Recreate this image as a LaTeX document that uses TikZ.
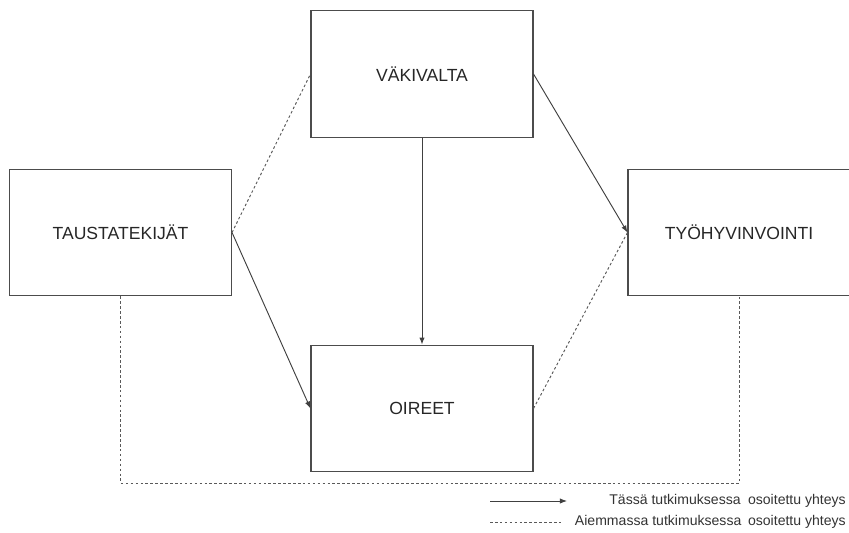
\documentclass[tikz,border=0pt]{standalone}
\usepackage{fontspec}
\setmainfont{Liberation Sans}
\usetikzlibrary{arrows.meta}

\tikzset{
    laatikko/.style={draw=black!70, line width=0.9pt, minimum width=6.66cm, minimum height=3.8cm,
        font=\fontsize{15}{18}\selectfont, text=black!85},
    yhteys/.style={draw=black!75, line width=0.8pt},
    aiempi/.style={draw=black!65, line width=0.8pt, dash pattern=on 2.2pt off 2pt},
    selite/.style={font=\fontsize{12}{14}\selectfont, text=black!80, inner sep=0pt}
}

\begin{document}
\begin{tikzpicture}[x=0.03cm, y=-0.03cm, >={Latex[length=6pt,width=4.5pt]}]
    \useasboundingbox (0,0) rectangle (849,532);
    % Laatikot
    \node[laatikko] (vak) at (422,74) {VÄKIVALTA};
    \node[laatikko] (taus) at (120.5,232.5) {TAUSTATEKIJÄT};
    \node[laatikko] (tyo) at (739,232.5) {TYÖHYVINVOINTI};
    \node[laatikko] (oir) at (422,408.5) {OIREET};
    % Yhteydet
    \draw[yhteys, ->] (vak.south) -- (oir.north);
    \draw[yhteys, ->] (taus.east) -- (oir.west);
    \draw[yhteys, ->] (vak.east) -- (tyo.west);
    \draw[aiempi] (taus.east) -- (vak.west);
    \draw[aiempi] (oir.east) -- (tyo.west);
    \draw[aiempi] (taus.south) -- (taus.south |- 0,483) -| (tyo.south);
    % Selite
    \node[selite, anchor=east] (tama) at (846,501) {Tässä tutkimuksessa\hspace{0.25em} osoitettu yhteys};
    \node[selite, anchor=east] (aiem) at (846,522) {Aiemmassa tutkimuksessa\hspace{0.2em} osoitettu yhteys};
    \coordinate (s1a) at (490,501);
    \coordinate (s1b) at (567,501);
    \coordinate (s2a) at (490,522);
    \coordinate (s2b) at (563,522);
    \draw[yhteys, ->] (s1a) -- (s1b);
    \draw[aiempi] (s2a) -- (s2b);
\end{tikzpicture}
\end{document}
